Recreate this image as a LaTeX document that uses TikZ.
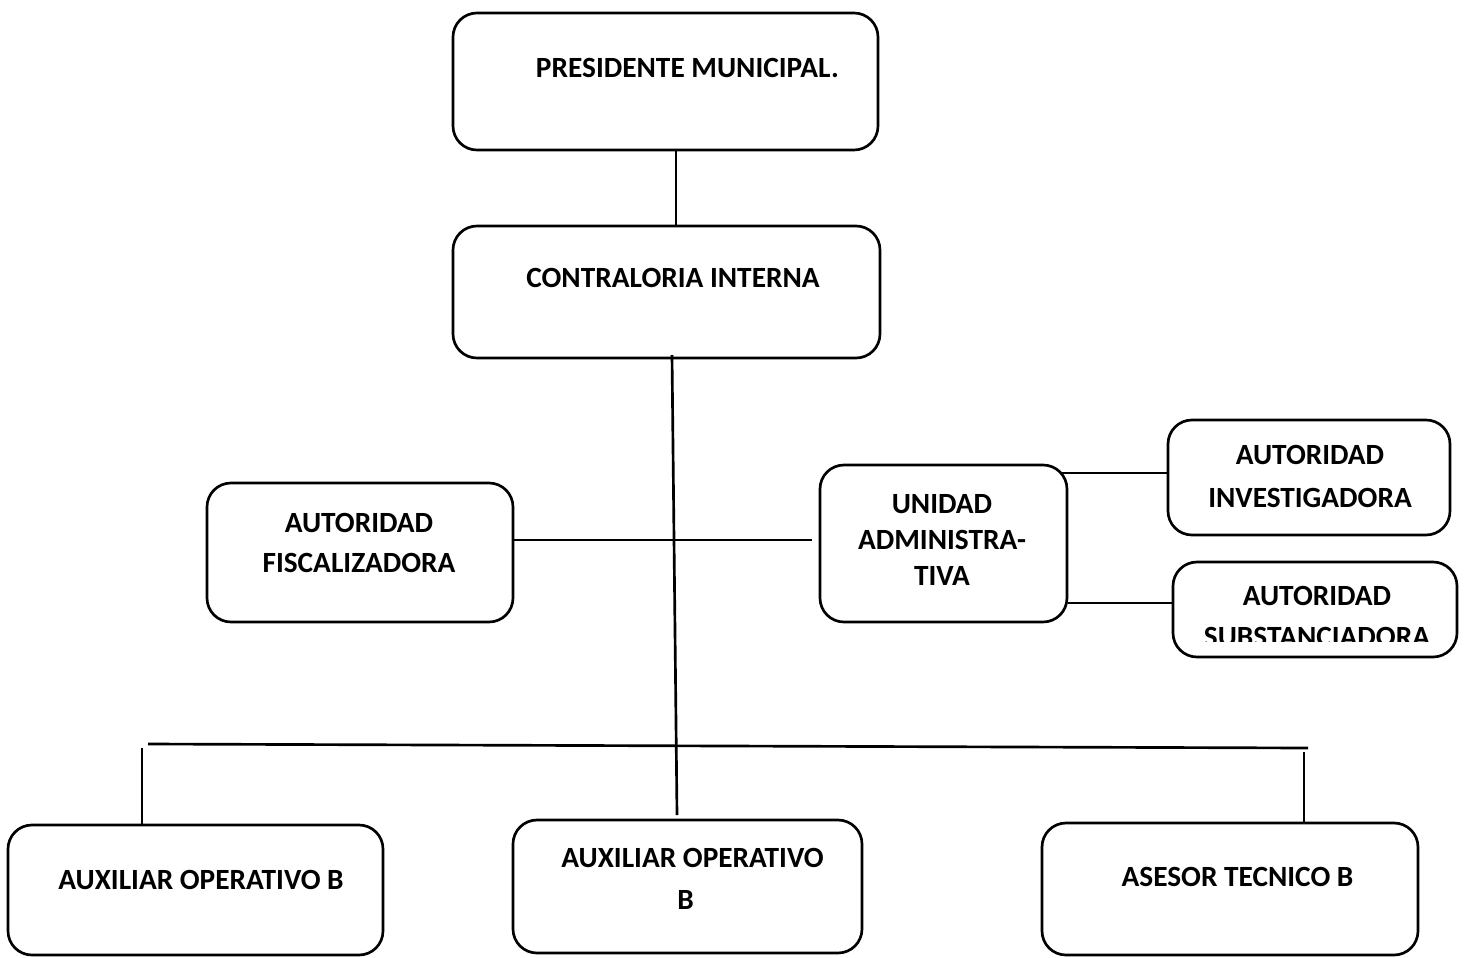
\documentclass[tikz,border=0pt]{standalone}
\usepackage{fontspec}
\setmainfont{Carlito}
\usetikzlibrary{positioning,calc}
\tikzstyle{bx}=[draw=black,line width=2pt,rounded corners=18pt,inner sep=0pt]
\tikzset{lbl/.style={align=center,inner sep=0pt,font=\bfseries\fontsize{22}{#1}\selectfont},
  lbl/.default=30,
  sz/.style 2 args={minimum width=#1*0.75pt,minimum height=#2*0.75pt}}

\begin{document}
\begin{tikzpicture}[x=0.75pt,y=-0.75pt,line width=2pt]
\useasboundingbox (0,0) rectangle (1464,957);
% boxes
\node[bx,sz={425}{137}](pres)at(665.5,81.5){};
\node[bx,sz={427}{132}](contra)at(666.5,292){};
\node[bx,sz={306}{139}](fisc)at(360,552.5){};
\node[bx,sz={247}{157}](unid)at(943.5,543.5){};
\node[bx,sz={282}{115}](inv)at(1309,477.5){};
\node[bx,sz={284}{95}](subs)at(1315,609.5){};
\node[bx,sz={375}{130}](aux1)at(195.5,890){};
\node[bx,sz={349}{133}](aux2)at(687.5,886.5){};
\node[bx,sz={376}{132}](ases)at(1230,889){};
% texts
\node[lbl](pres-t)at(687.5,67.5){PRESIDENTE MUNICIPAL.};
\node[lbl](contra-t)at(673,277.5){CONTRALORIA INTERNA};
\node[lbl](fisc-t)at(359,543){AUTORIDAD\\FISCALIZADORA};
\node[lbl=27](unid-t)at(942,540){UNIDAD\\ADMINISTRA-\\TIVA};
\node[lbl=32](inv-t)at(1310,476.5){AUTORIDAD\\INVESTIGADORA};
\begin{scope}
\clip (1172,560) rectangle (1457,641);
\node[lbl=31](subs-t)at(1317,616.5){AUTORIDAD\\SUBSTANCIADORA};
\end{scope}
\node[lbl](aux1-t)at(201,879.5){AUXILIAR OPERATIVO B};
\node[lbl=31.5](aux2-t)at(692.5,878.5){AUXILIAR OPERATIVO\\B\hspace*{10.5pt}};
\node[lbl](ases-t)at(1237.5,876.5){ASESOR TECNICO B};
% lines
\coordinate (tr-top) at (672,355);
\coordinate (tr-bot) at (677,815);
\coordinate (bus-l) at (148,744);
\coordinate (bus-r) at (1308,748);
\coordinate (dl) at (142,748);
\coordinate (dr) at (1304,752);
\draw ($(pres.south)+(10.5,0)$) -- ($(contra.north)+(9.5,0)$);
\draw (tr-top) -- (tr-bot);
\draw (fisc.east |- 0,540) -- ($(unid.west |- 0,540)+(-7,0)$);
\draw ($(unid.east |- 0,473)+(-6,0)$) -- (inv.west |- 0,473);
\draw (unid.east |- 0,603) -- (subs.west |- 0,603);
\draw (bus-l) -- (bus-r);
\draw (dl) -- (dl |- aux1.north);
\draw (dr) -- (dr |- ases.north);
\end{tikzpicture}
\end{document}
